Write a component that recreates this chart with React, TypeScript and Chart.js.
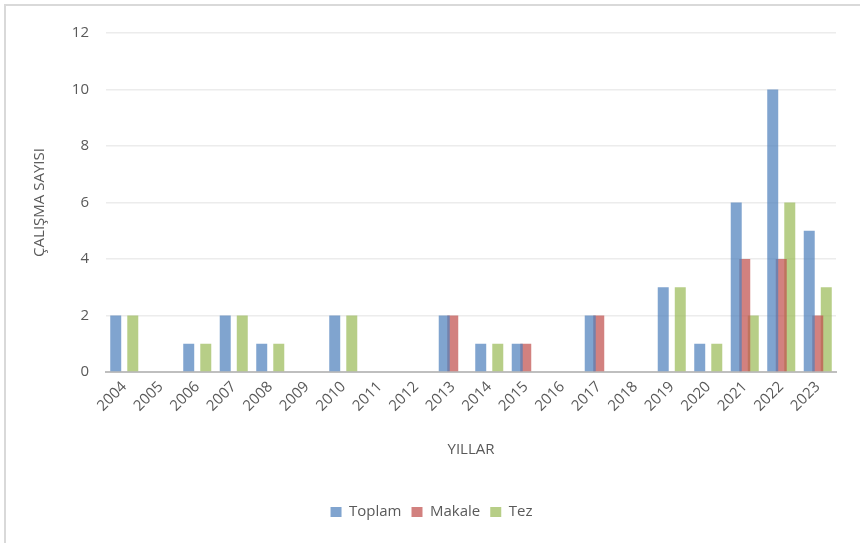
import React, { useEffect, useRef } from "react";
import { Chart, registerables } from "chart.js";

Chart.register(...registerables);

const years = ["2004","2005","2006","2007","2008","2009","2010","2011","2012","2013","2014","2015","2016","2017","2018","2019","2020","2021","2022","2023"];
const toplam = [2,0,1,2,1,0,2,0,0,2,1,1,0,2,0,3,1,6,10,5];
const makale = [0,0,0,0,0,0,0,0,0,2,0,1,0,2,0,0,0,4,4,2];
const tez =    [2,0,1,2,1,0,2,0,0,0,1,0,0,0,0,3,1,2,6,3];
const yTicks = [0,2,4,6,8,10,12];

const FONT = "'Open Sans', 'Noto Sans', sans-serif";
const TEXT = "#595959";

export default function App() {
  const ref = useRef<HTMLCanvasElement | null>(null);
  useEffect(() => {
    if (!ref.current) return;
    const chart = new Chart(ref.current, {
      type: "bar",
      data: {
        labels: years,
        datasets: [
          { label: "Toplam", data: toplam, backgroundColor: "rgba(79,129,189,0.72)" },
          { label: "Makale", data: makale, backgroundColor: "rgba(192,80,77,0.72)" },
          { label: "Tez", data: tez, backgroundColor: "rgba(155,187,89,0.72)" },
        ],
      },
      options: {
        responsive: false,
        animation: false,
        datasets: { bar: { categoryPercentage: 0.7, barPercentage: 1.29 } },
        layout: { padding: { left: 27, right: 24, top: 33, bottom: 13.5 } },
        plugins: {
          tooltip: { enabled: false },
          legend: {
            position: "bottom",
            labels: {
              boxWidth: 11,
              boxHeight: 10,
              padding: 10,
              color: TEXT,
              font: { family: FONT, size: 15 },
            },
          },
        },
        scales: {
          x: {
            grid: { display: false, drawTicks: false },
            border: { color: "#bfbfbf", width: 2 },
            ticks: {
              color: TEXT,
              font: { family: FONT, size: 15 },
              minRotation: 45,
              maxRotation: 45,
              padding: 6,
              autoSkip: false,
            },
            title: {
              display: true,
              text: "YILLAR",
              color: TEXT,
              font: { family: FONT, size: 15 },
              padding: { top: 4, bottom: 35.5 },
            },
            afterFit: (s: any) => { s.height = 122.5; },
          },
          y: {
            min: 0,
            max: 12,
            afterBuildTicks: (s: any) => { s.ticks = yTicks.map((v) => ({ value: v })); },
            grid: { color: "#ececec", lineWidth: 1.5, drawTicks: false },
            border: { display: false },
            ticks: {
              color: TEXT,
              font: { family: FONT, size: 15 },
              padding: 17,
            },
            title: {
              display: true,
              text: "ÇALIŞMA SAYISI",
              color: TEXT,
              font: { family: FONT, size: 15 },
              padding: { top: 4, bottom: 4 },
            },
            afterFit: (s: any) => { s.width = 79; },
          },
        },
      },
    });
    return () => chart.destroy();
  }, []);
  return (
    <div style={{ position: "fixed", left: 0, top: 0, width: 860, height: 543, background: "#fff", overflow: "hidden" }}>
      <div style={{ position: "absolute", left: 4, top: 4, width: 870, height: 560, borderLeft: "2px solid #d9d9d9", borderTop: "2px solid #d9d9d9" }} />
      <canvas ref={ref} width={860} height={543} style={{ position: "absolute", left: 0, top: 0 }} />
    </div>
  );
}
